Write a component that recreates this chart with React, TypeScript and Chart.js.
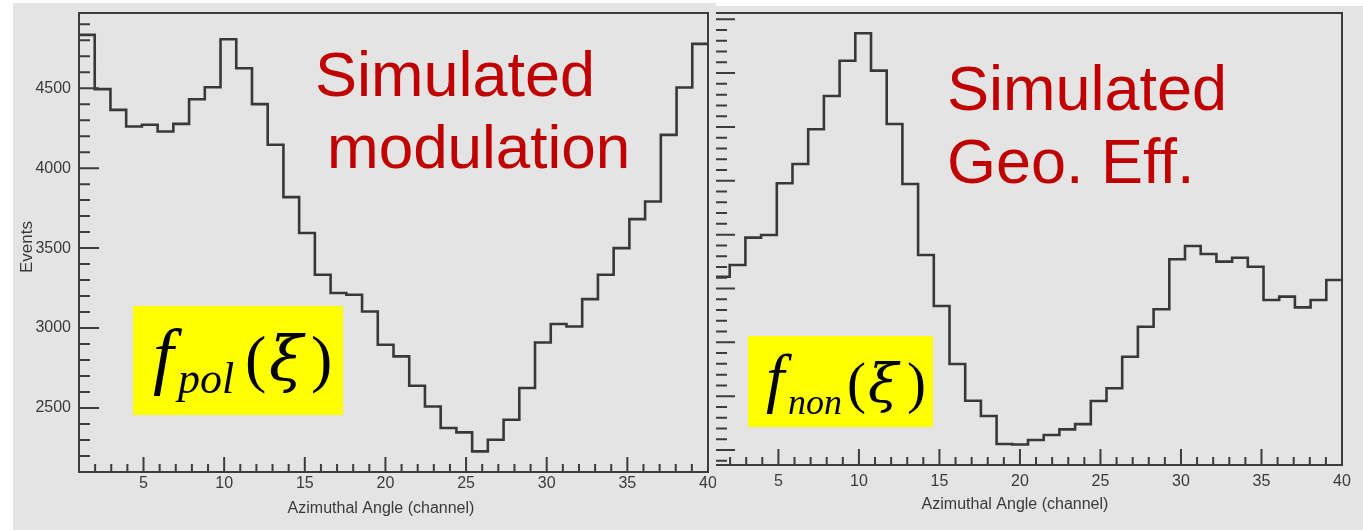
import React, { useEffect, useRef } from 'react';
import { Chart, registerables } from 'chart.js';

Chart.register(...registerables);

// Both histograms: 40 equal-width bins spanning azimuthal channels 1–40
const CHANNEL_MIN = 1;
const CHANNEL_MAX = 40;
const BIN_COUNT = 40;

// Simulated modulation f_pol(ξ): events per bin
const polarizedCounts = [
  4833, 4494, 4364, 4260, 4271, 4229, 4277, 4431, 4506, 4806,
  4625, 4400, 4146, 3819, 3594, 3333, 3219, 3208, 3104, 2896,
  2823, 2639, 2510, 2375, 2348, 2229, 2302, 2427, 2625, 2910,
  3025, 3010, 3181, 3333, 3500, 3681, 3791, 4208, 4504, 4777,
];

// Simulated geometric efficiency f_non(ξ): events per bin
const unpolarizedCounts = [
  3609, 3718, 3972, 3997, 4477, 4656, 4978, 5288, 5615, 5870,
  5523, 5028, 4470, 3811, 3337, 2799, 2458, 2316, 2056, 2051,
  2093, 2139, 2192, 2241, 2455, 2573, 2866, 3145, 3307, 3771,
  3895, 3820, 3749, 3786, 3702, 3393, 3424, 3325, 3393, 3579,
];

// Labelled tick values
const channelLabels = [5, 10, 15, 20, 25, 30, 35, 40];
const polarizedEventLabels = [2500, 3000, 3500, 4000, 4500];

const PANEL_BG = '#e4e4e4';
const AXIS_COLOR = '#3c3c3c';
const HIST_COLOR = '#383838';
const LABEL_COLOR = '#3a3a3a';
const NOTE_RED = '#c00000';
const NOTE_YELLOW = '#ffff00';
const SANS = '"Liberation Sans", Arial, sans-serif';
const SERIF = '"Liberation Serif", "Times New Roman", serif';
const GREEK = '"DejaVu Serif", "Liberation Serif", serif';

const binWidth = (CHANNEL_MAX - CHANNEL_MIN) / BIN_COUNT;

// Outline of a histogram as step points at the left edge of every bin
function histogramOutline(counts: number[]) {
  const pts = counts.map((c, i) => ({ x: CHANNEL_MIN + i * binWidth, y: c }));
  pts.push({ x: CHANNEL_MAX, y: counts[counts.length - 1] });
  return pts;
}

function tickValues(min: number, max: number, step: number) {
  const out: number[] = [];
  for (let v = Math.ceil(min / step) * step; v <= max; v += step) out.push(v);
  return out;
}

type TextItem = { text: string; x: number; y: number; font: string; color: string };
type Box = { x: number; y: number; w: number; h: number; color: string };

type PanelSpec = {
  counts: number[];
  left: number; top: number; width: number; height: number; z: number;
  padding: { left: number; top: number; right: number; bottom: number };
  yAxisWidth: number; xAxisHeight: number;
  yMin: number; yMax: number; yMinorStep: number; yMajorStep: number;
  yLabels: number[] | null;
  xLabelPad: number;
  xTick: [number, number]; yTick: [number, number];
  yTitle: { text: string; x: number; y: number } | null;
  xTitle: { text: string; x: number; y: number };
  boxes: Box[];
  notes: TextItem[];
};

const polarizedPanel: PanelSpec = {
  counts: polarizedCounts,
  left: 13, top: 3, width: 703, height: 527, z: 2,
  padding: { left: 0, top: 10, right: 8, bottom: 0 },
  yAxisWidth: 66, xAxisHeight: 58,
  yMin: 2100, yMax: 4970, yMinorStep: 100, yMajorStep: 500,
  yLabels: polarizedEventLabels,
  xLabelPad: 2,
  xTick: [15, 8], yTick: [20, 11],
  yTitle: { text: 'Events', x: 14, y: 244 },
  xTitle: { text: 'Azimuthal Angle (channel)', x: 368, y: 506 },
  boxes: [{ x: 120, y: 303, w: 210, h: 109, color: NOTE_YELLOW }],
  notes: [
    { text: 'Simulated', x: 302, y: 93, font: `63px ${SANS}`, color: NOTE_RED },
    { text: 'modulation', x: 314, y: 165, font: `62px ${SANS}`, color: NOTE_RED },
    { text: 'f', x: 140, y: 377, font: `italic 74px ${SERIF}`, color: '#000' },
    { text: 'pol', x: 165, y: 390, font: `italic 44px ${SERIF}`, color: '#000' },
    { text: '(', x: 232, y: 377, font: `64px ${SERIF}`, color: '#000' },
    { text: 'ξ', x: 256, y: 377, font: `italic 62px ${GREEK}`, color: '#000' },
    { text: ')', x: 298, y: 377, font: `64px ${SERIF}`, color: '#000' },
  ],
};

const unpolarizedPanel: PanelSpec = {
  counts: unpolarizedCounts,
  left: 700, top: 6, width: 663, height: 524, z: 1,
  padding: { left: 0, top: 7, right: 21, bottom: 0 },
  yAxisWidth: 14, xAxisHeight: 65,
  yMin: 1861, yMax: 6058, yMinorStep: 100, yMajorStep: 500,
  yLabels: null,
  xLabelPad: 7,
  xTick: [16, 8], yTick: [21, 13],
  yTitle: null,
  xTitle: { text: 'Azimuthal Angle (channel)', x: 315, y: 499 },
  boxes: [{ x: 48, y: 330, w: 185, h: 91, color: NOTE_YELLOW }],
  notes: [
    { text: 'Simulated', x: 247, y: 104, font: `63px ${SANS}`, color: NOTE_RED },
    { text: 'Geo. Eff.', x: 247, y: 177, font: `63px ${SANS}`, color: NOTE_RED },
    { text: 'f', x: 66, y: 394, font: `italic 66px ${SERIF}`, color: '#000' },
    { text: 'non', x: 88, y: 408, font: `italic 36px ${SERIF}`, color: '#000' },
    { text: '(', x: 147, y: 396, font: `57px ${SERIF}`, color: '#000' },
    { text: 'ξ', x: 168, y: 396, font: `italic 55px ${GREEK}`, color: '#000' },
    { text: ')', x: 207, y: 396, font: `57px ${SERIF}`, color: '#000' },
  ],
};

// Frame, inward tick marks, axis titles and annotations in the style of a ROOT canvas
function framePlugin(s: PanelSpec) {
  return {
    id: 'rootFrame',
    beforeDraw(chart: any) {
      const { ctx, width, height } = chart;
      ctx.save();
      ctx.fillStyle = PANEL_BG;
      ctx.fillRect(0, 0, width, height);
      ctx.restore();
    },
    afterDraw(chart: any) {
      const { ctx, chartArea: a, scales } = chart;
      const xs = scales.x;
      const ys = scales.y;
      ctx.save();
      ctx.strokeStyle = AXIS_COLOR;
      ctx.lineWidth = 2;
      ctx.beginPath();
      xs.ticks.forEach((t: any) => {
        const px = xs.getPixelForValue(t.value);
        const len = t.value % 5 === 0 ? s.xTick[0] : s.xTick[1];
        ctx.moveTo(px, a.bottom);
        ctx.lineTo(px, a.bottom - len);
      });
      ys.ticks.forEach((t: any) => {
        const py = ys.getPixelForValue(t.value);
        const len = t.value % s.yMajorStep === 0 ? s.yTick[0] : s.yTick[1];
        ctx.moveTo(a.left, py);
        ctx.lineTo(a.left + len, py);
      });
      ctx.stroke();
      ctx.strokeRect(a.left, a.top, a.right - a.left, a.bottom - a.top);

      ctx.fillStyle = LABEL_COLOR;
      ctx.textAlign = 'center';
      ctx.textBaseline = 'middle';
      ctx.font = `16px ${SANS}`;
      ctx.fillText(s.xTitle.text, s.xTitle.x, s.xTitle.y);
      if (s.yTitle) {
        ctx.save();
        ctx.translate(s.yTitle.x, s.yTitle.y);
        ctx.rotate(-Math.PI / 2);
        ctx.font = `17px ${SANS}`;
        ctx.fillText(s.yTitle.text, 0, 0);
        ctx.restore();
      }

      s.boxes.forEach((b) => {
        ctx.fillStyle = b.color;
        ctx.fillRect(b.x, b.y, b.w, b.h);
      });
      ctx.textAlign = 'left';
      ctx.textBaseline = 'alphabetic';
      s.notes.forEach((n) => {
        ctx.font = n.font;
        ctx.fillStyle = n.color;
        ctx.fillText(n.text, n.x, n.y);
      });
      ctx.restore();
    },
  };
}

function buildConfig(s: PanelSpec): any {
  const tickFont = { family: SANS, size: 16 };
  const noGrid = { display: false, drawTicks: false, tickLength: 0 };
  return {
    type: 'line',
    data: {
      datasets: [
        {
          data: histogramOutline(s.counts),
          stepped: 'before',
          borderColor: HIST_COLOR,
          borderWidth: 2.6,
          pointRadius: 0,
          fill: false,
        },
      ],
    },
    options: {
      animation: false,
      responsive: false,
      maintainAspectRatio: false,
      events: [],
      layout: { padding: s.padding },
      plugins: { legend: { display: false }, tooltip: { enabled: false }, title: { display: false } },
      scales: {
        x: {
          type: 'linear',
          min: CHANNEL_MIN,
          max: CHANNEL_MAX,
          grid: noGrid,
          border: { display: false },
          afterBuildTicks: (sc: any) => {
            sc.ticks = tickValues(CHANNEL_MIN, CHANNEL_MAX, 1).map((v) => ({ value: v }));
          },
          afterFit: (sc: any) => {
            sc.height = s.xAxisHeight;
            sc.paddingLeft = 0;
            sc.paddingRight = 0;
          },
          ticks: {
            autoSkip: false,
            maxRotation: 0,
            minRotation: 0,
            padding: s.xLabelPad,
            color: LABEL_COLOR,
            font: tickFont,
            callback: (v: number) => (channelLabels.includes(v) ? String(v) : ''),
          },
        },
        y: {
          type: 'linear',
          min: s.yMin,
          max: s.yMax,
          grid: noGrid,
          border: { display: false },
          afterBuildTicks: (sc: any) => {
            sc.ticks = tickValues(s.yMin, s.yMax, s.yMinorStep).map((v) => ({ value: v }));
          },
          afterFit: (sc: any) => {
            sc.width = s.yAxisWidth;
            sc.paddingTop = 0;
            sc.paddingBottom = 0;
          },
          ticks: {
            display: !!s.yLabels,
            autoSkip: false,
            padding: 8,
            color: LABEL_COLOR,
            font: tickFont,
            callback: (v: number) => (s.yLabels && s.yLabels.includes(v) ? String(v) : ''),
          },
        },
      },
    },
    plugins: [framePlugin(s)],
  };
}

function HistogramPanel({ spec }: { spec: PanelSpec }) {
  const ref = useRef<HTMLCanvasElement>(null);
  useEffect(() => {
    if (!ref.current) return;
    const chart = new Chart(ref.current, buildConfig(spec));
    return () => chart.destroy();
  }, [spec]);
  return (
    <canvas
      ref={ref}
      width={spec.width}
      height={spec.height}
      style={{
        position: 'absolute',
        left: spec.left,
        top: spec.top,
        width: spec.width,
        height: spec.height,
        zIndex: spec.z,
      }}
    />
  );
}

export default function App() {
  return (
    <div
      style={{
        position: 'fixed',
        left: 0,
        top: 0,
        width: 1363,
        height: 530,
        background: '#ffffff',
        overflow: 'hidden',
      }}
    >
      <HistogramPanel spec={unpolarizedPanel} />
      <HistogramPanel spec={polarizedPanel} />
    </div>
  );
}
